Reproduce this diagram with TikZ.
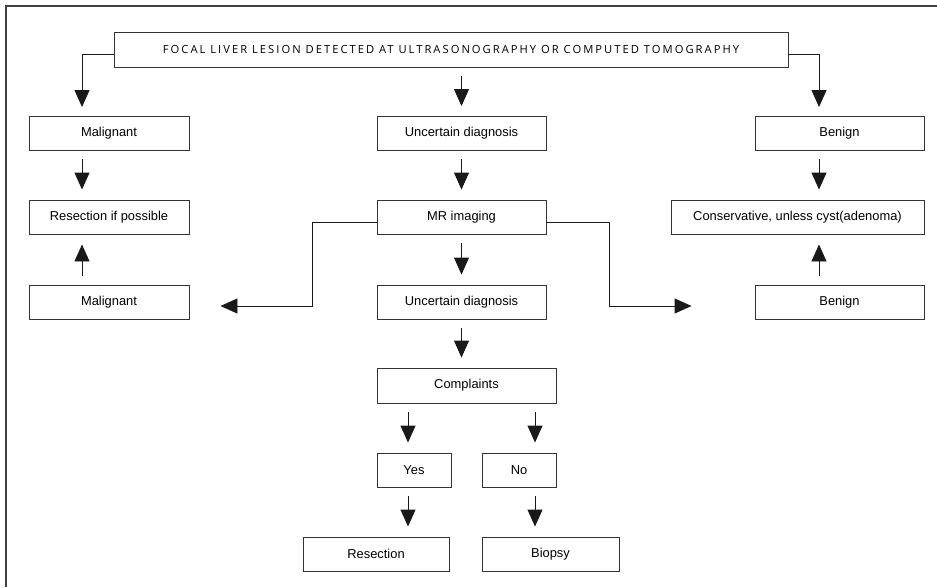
\documentclass[tikz,border=0pt]{standalone}
\usepackage{fontspec}
\setmainfont{Liberation Sans}
\newfontfamily\headfont[LetterSpace=18]{Open Sans}
\usetikzlibrary{arrows.meta}
\begin{document}
\begin{tikzpicture}[x=1pt,y=-1pt,
    box/.style={draw=black!80,line width=0.9pt,minimum height=34pt,inner sep=0pt,
      font=\fontsize{12.9}{15}\selectfont},
    arr/.style={-{Triangle[width=15pt,length=17pt]},line width=0.9pt,black!90},
    gapped/.style={arr,shorten <=8.5pt,shorten >=10pt}]
  \useasboundingbox (0,0) rectangle (937,587);
  \draw[line width=1.5pt,black!75] (6,587) -- (6,6) -- (937,6); % frame
  % boxes
  \node[box,minimum width=674pt,minimum height=35pt] (top) at (451,49.5)
    {\headfont\fontsize{11.2}{13}\selectfont FOCAL LIVER LESION DETECTED AT ULTRASONOGRAPHY OR COMPUTED TOMOGRAPHY};
  \node[box,minimum width=160pt] (mal1) at (109,133.5) {Malignant};
  \node[box,minimum width=169pt] (unc1) at (461.5,133.5) {Uncertain diagnosis};
  \node[box,minimum width=169pt] (ben1) at (839.5,133.5) {Benign};
  \node[box,minimum width=160pt] (res1) at (109,217) {Resection if possible};
  \node[box,minimum width=169pt] (mri) at (461.5,217) {MR imaging};
  \node[box,minimum width=253pt] (cons) at (797.5,217) {Conservative, unless cyst(adenoma)};
  \node[box,minimum width=160pt] (mal2) at (109,302) {Malignant};
  \node[box,minimum width=169pt] (unc2) at (461.5,302) {Uncertain diagnosis};
  \node[box,minimum width=169pt] (ben2) at (839.5,302) {Benign};
  \node[box,minimum width=179pt,minimum height=35pt] (comp) at (466.5,385.5) {Complaints};
  \node[box,minimum width=74pt] (yes) at (414,470) {Yes};
  \node[box,minimum width=74pt] (no) at (519,470) {No};
  \node[box,minimum width=146pt] (resc) at (376,554) {Resection};
  \node[box,minimum width=137pt] (biop) at (550.5,554) {Biopsy};
  % arrows
  \draw[arr] ([yshift=-4.5pt]top.west) -| ([xshift=-27pt,yshift=9pt]mal1.north);
  \draw[arr] ([yshift=-4.5pt]top.east) -| ([xshift=-20.5pt,yshift=9pt]ben1.north);
  \draw[gapped] (top.south -| unc1.north) -- (unc1.north);
  \foreach \a/\b in {unc1/mri,mri/unc2,unc2/comp} {
      \draw[gapped] (\a.south) -- (\a.south |- \b.north);
  }
  \foreach \a/\b/\s in {mal1/res1/-27,ben1/cons/21.5,comp/yes/-6,comp/no/16,yes/resc/32,no/biop/-15.5} {
      \draw[gapped] ([xshift=\s pt]\b.north |- \a.south) -- ([xshift=\s pt]\b.north);
  }
  \draw[gapped] ([xshift=-27pt]mal2.north) -- ([xshift=-27pt]res1.south);
  \draw[gapped] ([xshift=-20.5pt]ben2.north) -- ([xshift=-20.5pt]ben2.north |- cons.south);
  \draw[arr] ([yshift=-5pt]mri.west) -- ++(-64pt,0) |- ([xshift=31pt,yshift=-4pt]mal2.east);
  \draw[arr] ([yshift=-5pt]mri.east) -- ++(63pt,0) |- ([xshift=-63pt,yshift=-4pt]ben2.west);
\end{tikzpicture}
\end{document}
